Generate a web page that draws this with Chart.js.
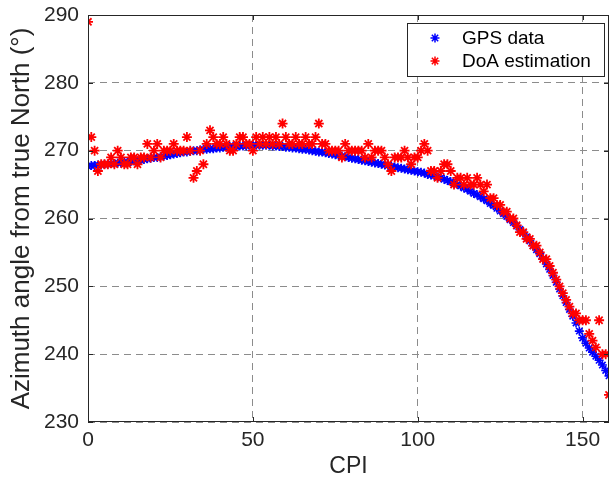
<!DOCTYPE html>
<html>
<head>
<meta charset="utf-8">
<script src="https://cdn.jsdelivr.net/npm/chart.js@4.4.1/dist/chart.umd.min.js"></script>
<style>
  html, body { margin: 0; padding: 0; background: #fff; }
  #wrap { width: 611px; height: 484px; }
</style>
</head>
<body>
<div id="wrap"><canvas id="azchart" width="611" height="484"></canvas></div>
<script>
// azimuth from GPS, one value per CPI (0..158)
const gpsAz = [
  267.7, 267.8, 267.8, 267.9, 267.9, 268.0, 268.0, 268.1, 268.1, 268.2,
  268.2, 268.3, 268.3, 268.4, 268.5, 268.5, 268.6, 268.7, 268.8, 268.9,
  269.0, 269.0, 269.1, 269.2, 269.3, 269.4, 269.5, 269.6, 269.7, 269.8,
  269.8, 269.9, 270.0, 270.0, 270.1, 270.2, 270.2, 270.3, 270.3, 270.4,
  270.4, 270.5, 270.5, 270.6, 270.6, 270.6, 270.7, 270.7, 270.7, 270.8,
  270.8, 270.8, 270.8, 270.8, 270.8, 270.8, 270.7, 270.7, 270.6, 270.6,
  270.5, 270.5, 270.4, 270.4, 270.3, 270.2, 270.2, 270.1, 270.0, 269.9,
  269.8, 269.8, 269.7, 269.6, 269.5, 269.4, 269.3, 269.2, 269.1, 269.0,
  268.9, 268.8, 268.7, 268.6, 268.5, 268.4, 268.3, 268.2, 268.1, 268.0,
  267.9, 267.8, 267.7, 267.6, 267.5, 267.4, 267.3, 267.2, 267.1, 267.0,
  266.9, 266.8, 266.7, 266.5, 266.4, 266.3, 266.1, 266.0, 265.8, 265.6,
  265.4, 265.2, 265.0, 264.8, 264.5, 264.3, 264.0, 263.7, 263.5, 263.2,
  262.9, 262.6, 262.2, 261.9, 261.5, 261.1, 260.7, 260.3, 259.8, 259.4,
  258.9, 258.4, 257.9, 257.3, 256.7,
  256.0, 255.4, 254.8, 254.1, 253.3, 252.5, 251.6, 250.6, 249.6, 248.6,
  247.6, 246.6, 245.6, 244.6, 243.4,
  242.4, 241.6, 240.9, 240.3, 239.7, 239.1, 238.4, 237.6, 236.8
];

// DoA estimate, one value per CPI (0..158)
const doaAz = [
  289, 272, 270, 267, 268, 268, 268, 269, 268, 270,
  269, 268, 268, 269, 269, 268, 269, 269, 271, 269,
  270, 271, 269, 270, 270, 270, 271, 270, 270, 270,
  272, 270, 266, 267, 270, 268, 271, 273, 272, 271,
  271, 272, 271, 270, 270, 271, 272, 272, 271, 271,
  270, 272, 271, 272, 271, 272, 271, 272, 271, 274,
  272, 271, 271, 272, 271, 271, 272, 271, 271, 272,
  274, 271, 271, 270, 270, 270, 270, 269, 271, 270,
  270, 270, 270, 270, 269, 271, 269, 270, 270, 270,
  269, 268, 267, 269, 269, 269, 270, 269, 268, 269,
  269, 270, 271, 270, 267, 267, 266, 267, 268, 268,
  267, 265, 266, 266, 265, 266, 265, 265, 266, 265,
  264, 265, 263, 263, 262, 262, 261, 261, 260, 260,
  259, 258, 258, 257, 257, 256, 256, 255, 254, 254,
  253, 252, 251, 250, 249, 248, 247, 246, 246, 245,
  245, 245, 243, 242, 241, 245, 240, 240, 234
];

const xTicks = [0, 50, 100, 150];
const yTicks = [230, 240, 250, 260, 270, 280, 290];
const legendNames = ["GPS data", "DoA estimation"];

const txtColor = "#262626";
const gridColor = "#8c8c8c";
const fontFam = "'Liberation Sans', Arial, sans-serif";

function starAt(ctx, x, y, r, color) {
  ctx.save();
  ctx.strokeStyle = color;
  ctx.lineWidth = 1.5;
  ctx.beginPath();
  ctx.moveTo(x - r, y); ctx.lineTo(x + r, y);
  ctx.moveTo(x, y - r); ctx.lineTo(x, y + r);
  const d = r * 0.707;
  ctx.moveTo(x - d, y - d); ctx.lineTo(x + d, y + d);
  ctx.moveTo(x - d, y + d); ctx.lineTo(x + d, y - d);
  ctx.stroke();
  ctx.restore();
}

// box, inward tick marks and the legend like matlab draws them
const boxPlugin = {
  id: "boxPlugin",
  afterDraw(chart) {
    const ctx = chart.ctx;
    const a = chart.chartArea;
    const xs = chart.scales.x, ys = chart.scales.y;
    ctx.save();
    ctx.strokeStyle = txtColor;
    ctx.lineWidth = 1;
    ctx.strokeRect(Math.round(a.left) + 0.5, Math.round(a.top) + 0.5,
      Math.round(a.right - a.left) - 1, Math.round(a.bottom - a.top) - 1);
    ctx.beginPath();
    xTicks.forEach(v => {
      const px = Math.round(xs.getPixelForValue(v)) + 0.5;
      ctx.moveTo(px, a.bottom); ctx.lineTo(px, a.bottom - 5);
      ctx.moveTo(px, a.top); ctx.lineTo(px, a.top + 5);
    });
    yTicks.forEach(v => {
      const py = Math.round(ys.getPixelForValue(v)) + 0.5;
      ctx.moveTo(a.left, py); ctx.lineTo(a.left + 5, py);
      ctx.moveTo(a.right, py); ctx.lineTo(a.right - 5, py);
    });
    ctx.stroke();

    // legend
    const lx = 407.5, ly = 23.5, lw = 197, lh = 53;
    ctx.fillStyle = "#fff";
    ctx.fillRect(lx, ly, lw, lh);
    ctx.strokeRect(lx, ly, lw, lh);
    const colors = ["#0000ff", "#ff0000"];
    ctx.font = "19px " + fontFam;
    ctx.fillStyle = "#000";
    ctx.textBaseline = "middle";
    legendNames.forEach((name, i) => {
      const yy = 38 + i * 23;
      starAt(ctx, 435, yy, 4.5, colors[i]);
      ctx.fillText(name, 462, yy + 1);
    });
    ctx.restore();
  }
};

const ctx = document.getElementById("azchart").getContext("2d");

window.azChart = new Chart(ctx, {
  type: "scatter",
  data: {
    datasets: [{
      label: legendNames[0],
      data: gpsAz.map((v, i) => ({ x: i, y: v })),
      pointStyle: "star",
      pointRadius: 4.5,
      borderColor: "#0000ff",
      backgroundColor: "#0000ff",
      borderWidth: 1.6,
      order: 1
    }, {
      label: legendNames[1],
      data: doaAz.map((v, i) => ({ x: i, y: v })),
      pointStyle: "star",
      pointRadius: 5,
      borderColor: "#ff0000",
      backgroundColor: "#ff0000",
      borderWidth: 1.8,
      order: 0
    }]
  },
  options: {
    responsive: false,
    animation: false,
    layout: { autoPadding: false, padding: { top: 15, right: 2, left: 0, bottom: 0 } },
    plugins: {
      legend: { display: false },
      tooltip: { enabled: false }
    },
    scales: {
      x: {
        type: "linear",
        min: 0,
        max: 158,
        afterFit: s => {
          s.height = 62;
          s.paddingLeft = 0;
          s.paddingRight = 0;
        },
        afterBuildTicks: s => { s.ticks = xTicks.map(v => ({ value: v })); },
        ticks: {
          color: txtColor,
          padding: 6,
          font: { size: 21, family: fontFam }
        },
        grid: { color: gridColor, drawTicks: false },
        border: { display: false, dash: [7, 5] },
        title: {
          display: true,
          text: "CPI",
          color: txtColor,
          padding: { top: 2 },
          font: { size: 23, family: fontFam }
        }
      },
      y: {
        min: 230,
        max: 290,
        afterFit: s => {
          s.width = 88;
          s.paddingTop = 0;
          s.paddingBottom = 0;
        },
        afterBuildTicks: s => { s.ticks = yTicks.map(v => ({ value: v })); },
        ticks: {
          color: txtColor,
          padding: 9,
          font: { size: 21, family: fontFam }
        },
        grid: { color: gridColor, drawTicks: false },
        border: { display: false, dash: [7, 5] },
        title: {
          display: true,
          text: "Azimuth angle from true North (°)",
          color: txtColor,
          padding: { top: 6, bottom: 0 },
          font: { size: 26, family: fontFam }
        }
      }
    }
  },
  plugins: [boxPlugin]
});
</script>
</body>
</html>
